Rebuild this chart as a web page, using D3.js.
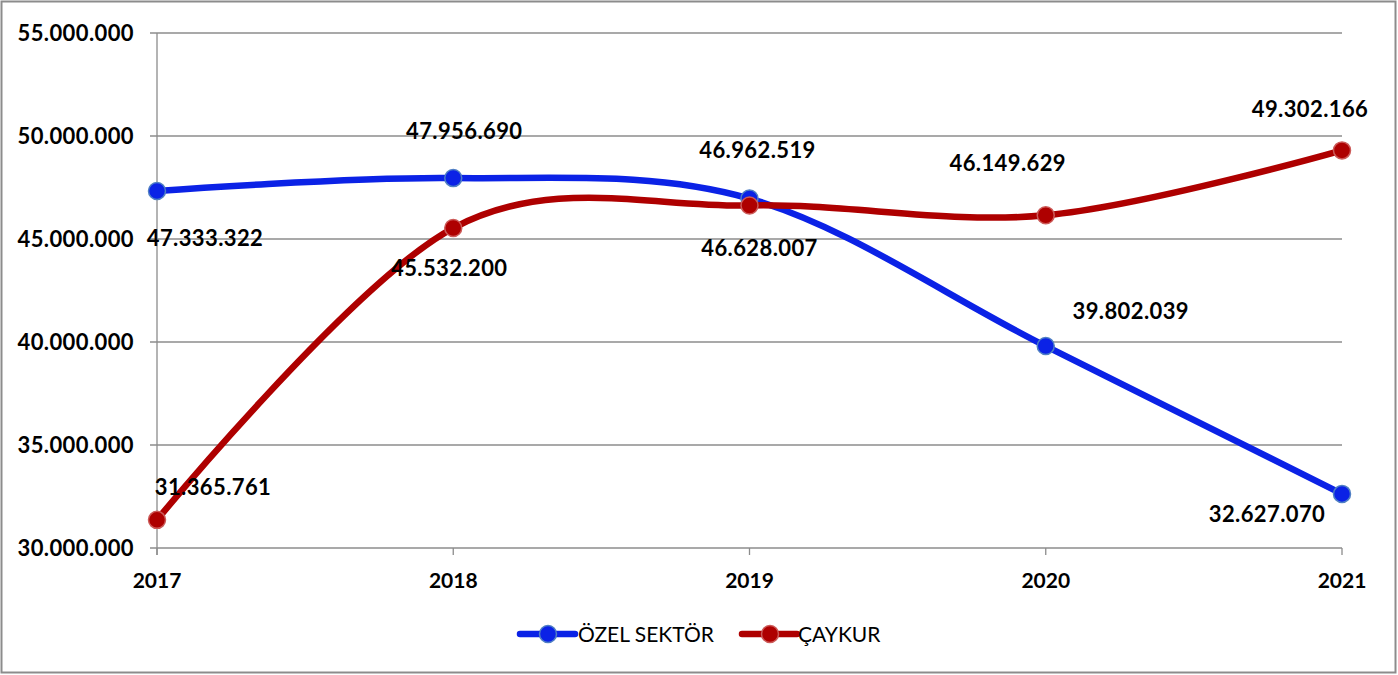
<!DOCTYPE html>
<html><head><meta charset="utf-8">
<script src="https://cdn.jsdelivr.net/npm/d3@7"></script>
<style>body{margin:0;background:#fff}svg{display:block}</style>
</head><body>
<svg id="c" width="1398" height="675"></svg>
<script>
const years = ["2017","2018","2019","2020","2021"];
const ozelSektor = [47333322, 47956690, 46962519, 39802039, 32627070];
const caykur = [31365761, 45532200, 46628007, 46149629, 49302166];
const yTicks = [30000000, 35000000, 40000000, 45000000, 50000000, 55000000];
const seriesNames = ["ÖZEL SEKTÖR", "ÇAYKUR"];

const fmt = v => d3.format(",")(v).replace(/,/g, ".");
const svg = d3.select("#c");
const W = 1398, H = 675;
const m = {l:157, r:56, t:33, b:127};

svg.append("rect").attr("x",1.5).attr("y",1.5).attr("width",W-4).attr("height",H-4)
  .attr("fill","#fff").attr("stroke","#8c8c8c").attr("stroke-width",2);

const x = d3.scalePoint().domain(years).range([m.l, W-m.r]);
const y = d3.scaleLinear().domain([30000000,55000000]).range([H-m.b, m.t]);

svg.append("g").selectAll("line").data(yTicks).join("line")
  .attr("x1", m.l-7).attr("x2", W-m.r)
  .attr("y1", d=>y(d)).attr("y2", d=>y(d))
  .attr("stroke","#8c8c8c").attr("stroke-width",1.3);
svg.append("line").attr("x1",m.l).attr("x2",m.l).attr("y1",y(55000000)).attr("y2",y(30000000)+7)
  .attr("stroke","#8c8c8c").attr("stroke-width",1.3);
svg.append("g").selectAll("line").data(years).join("line")
  .attr("x1",d=>x(d)).attr("x2",d=>x(d)).attr("y1",y(30000000)).attr("y2",y(30000000)+7)
  .attr("stroke","#8c8c8c").attr("stroke-width",1.3);

const font = "Lato, 'Open Sans', sans-serif";
svg.append("g").selectAll("text").data(yTicks).join("text")
  .attr("x", 134).attr("y", d=>y(d)).attr("dy","0.36em")
  .attr("text-anchor","end").attr("font-family",font).attr("font-weight","bold")
  .attr("font-size",22).attr("letter-spacing",0.4).attr("fill","#000").text(d=>fmt(d));
svg.append("g").selectAll("text").data(years).join("text")
  .attr("x", d=>x(d)).attr("y", 580).attr("dy","0.36em")
  .attr("text-anchor","middle").attr("font-family",font).attr("font-weight","bold")
  .attr("font-size",21).attr("fill","#000").text(d=>d);

const series = [
  {name: seriesNames[0], values: ozelSektor, color:"#0b22e6", mstroke:"#4f7fc4",
   off:[[48,47],[11,-47],[8,-48],[85,-35],[-75,20]]},
  {name: seriesNames[1], values: caykur, color:"#ae0000", mstroke:"#cc5a58",
   off:[[56,-33],[-4,40],[10,43],[-38,-52],[-32,-41]]}
];

const line = d3.line().x((d,i)=>x(years[i])).y(d=>y(d)).curve(d3.curveCardinal.tension(0));

series.forEach(s=>{
  svg.append("path").attr("d", line(s.values)).attr("fill","none")
    .attr("stroke", s.color).attr("stroke-width",6.5).attr("stroke-linecap","round");
});
series.forEach(s=>{
  svg.append("g").selectAll("circle").data(s.values).join("circle")
    .attr("cx",(d,i)=>x(years[i])).attr("cy",d=>y(d)).attr("r",8.5)
    .attr("fill", s.color).attr("stroke", s.mstroke).attr("stroke-width",1.5);
});
series.forEach(s=>{
  svg.append("g").selectAll("text").data(s.values).join("text")
    .attr("x",(d,i)=>x(years[i]) + s.off[i][0]).attr("y",(d,i)=>y(d) + s.off[i][1])
    .attr("dy","0.36em").attr("text-anchor","middle")
    .attr("font-family",font).attr("font-weight","bold").attr("font-size",22)
    .attr("letter-spacing",0.4).attr("fill","#000").text(d=>fmt(d));
});

const lg = [{x0:520, tx:578}, {x0:742, tx:798}];
series.forEach((s,i)=>{
  const g = svg.append("g");
  g.append("line").attr("x1",lg[i].x0).attr("x2",lg[i].x0+55).attr("y1",634).attr("y2",634)
    .attr("stroke",s.color).attr("stroke-width",6.5).attr("stroke-linecap","round");
  g.append("circle").attr("cx",lg[i].x0+28).attr("cy",634).attr("r",8.5)
    .attr("fill",s.color).attr("stroke",s.mstroke).attr("stroke-width",1.5);
  g.append("text").attr("x",lg[i].tx).attr("y",634).attr("dy","0.36em")
    .attr("font-family",font).attr("font-size",21).attr("fill","#000").text(s.name);
});
</script>
</body></html>
